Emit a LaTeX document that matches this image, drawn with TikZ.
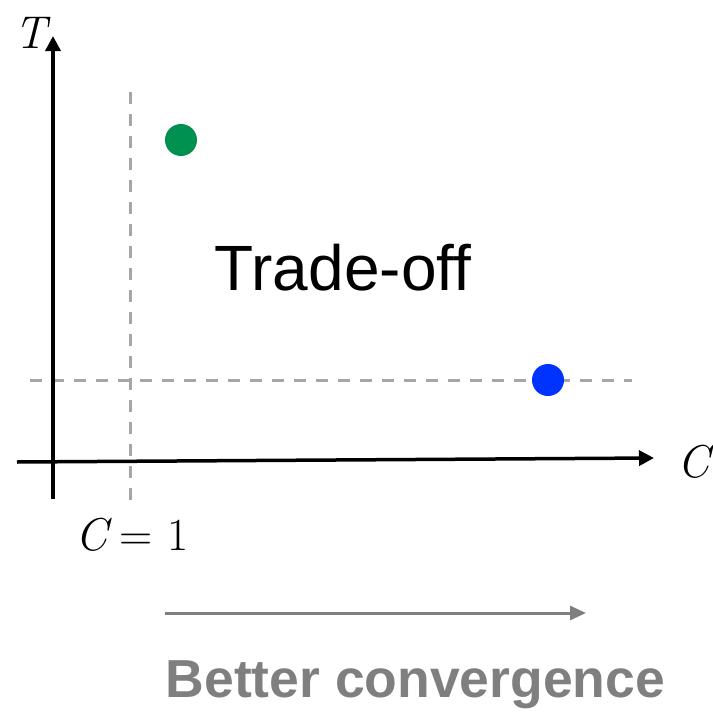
\documentclass[tikz,border=0pt]{standalone}
\usepackage{fontspec}
\setmainfont{Liberation Sans}
\newfontfamily\lmr{Latin Modern Roman}
\usetikzlibrary{arrows.meta}
\definecolor{dgray}{HTML}{A6A6A6}
\definecolor{agray}{HTML}{7F7F7F}
\definecolor{dgreen}{HTML}{00904F}
\definecolor{dblue}{HTML}{0033FF}
\begin{document}
\begin{tikzpicture}[x=1pt,y=-1pt,
  axis/.style={line width=3.5pt,-{Triangle[length=15pt,width=15pt]}},
  guide/.style={dgray,line width=3pt,dash pattern=on 12pt off 10pt},
  dot/.style={circle,inner sep=0pt,minimum size=32pt},
  lab/.style={inner sep=0pt,font=\lmr\fontsize{46}{50}\selectfont}]
\useasboundingbox (0,0) rectangle (713,712);
\coordinate (ybot) at (53,499);
\coordinate (ytop) at (53,36);
\coordinate (xl) at (17,462);
\coordinate (xr) at (654,458);
\coordinate (vt) at (130,92);
\coordinate (vb) at (130,500);
\coordinate (hl) at (30,380);
\coordinate (hr) at (632,380);
\draw[guide] (vt) -- (vb);
\draw[guide] (hl) -- (hr);
\draw[axis] (ybot) -- (ytop);
\draw[axis] (xl) -- (xr);
\node[dot,fill=dgreen] (g) at (181,140) {};
\node[dot,fill=dblue] (b) at (548,380) {};
\node[lab] (T) at (31,33) {\itshape T};
\node[lab] (C) at (694,462) {\itshape C};
\node[lab] (C1) at (132,535) {{\itshape C}\hspace{12pt}=\hspace{14pt}1};
\node[inner sep=0pt,font=\fontsize{64}{72}\selectfont] (to) at (343,268) {Trade-off};
\coordinate (al) at (165,613);
\coordinate (ar) at (586,613);
\draw[agray,line width=3pt,-{Triangle[length=16pt,width=14pt]}] (al) -- (ar);
\node[inner sep=0pt,agray,font=\fontsize{53.5}{60}\selectfont\bfseries] (bc) at (415.5,685) {Better convergence};
\end{tikzpicture}
\end{document}
